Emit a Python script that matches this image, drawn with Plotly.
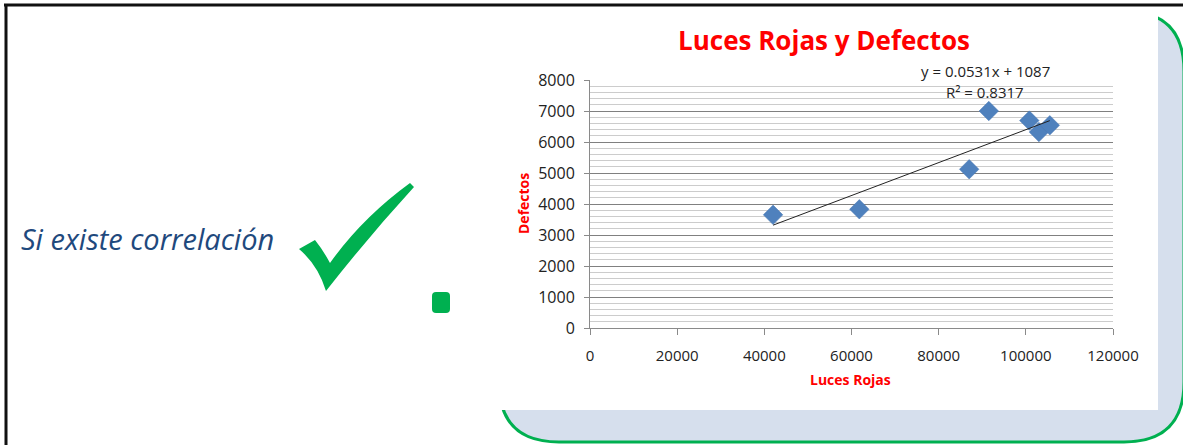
import re
import plotly.graph_objects as go

# Red lights vs. defects
luces_rojas = [42000, 61800, 87000, 91500, 100800, 103000, 105500]
defectos = [3650, 3830, 5120, 7000, 6690, 6320, 6540]

# Linear trendline stated on the chart
pendiente = 0.0531
intercepto = 1087
r_cuadrado = 0.8317

x_ticks = [0, 20000, 40000, 60000, 80000, 100000, 120000]
y_ticks = [0, 1000, 2000, 3000, 4000, 5000, 6000, 7000, 8000]

W, H = 1183, 445
FONT = "Open Sans"
ROJO = "#FF0000"
VERDE = "#00B050"
AZUL_MARCA = "#4F81BD"

x_lo, x_hi = min(luces_rojas), max(luces_rojas)
tend_x = [x_lo, x_hi]
tend_y = [pendiente * v + intercepto for v in tend_x]


def px(x):
    return x / W


def py(y):
    return 1 - y / H


def pix_path(path):
    """Convert an absolute pixel-space SVG path into paper fractions."""
    out, coords = [], []
    for tok in re.findall(r"[MLQZ]|-?\d+(?:\.\d+)?", path):
        if tok.isalpha():
            out.append(tok)
        else:
            coords.append(float(tok))
            if len(coords) == 2:
                out.append(f"{px(coords[0]):.5f},{py(coords[1]):.5f}")
                coords = []
    return " ".join(out)


fig = go.Figure()

# data points
fig.add_trace(go.Scatter(
    x=luces_rojas, y=defectos, mode="markers",
    marker=dict(symbol="diamond", size=15, color=AZUL_MARCA,
                line=dict(width=0.5, color="#4677b3")),
    showlegend=False, hoverinfo="skip"))

# trendline
fig.add_trace(go.Scatter(
    x=tend_x, y=tend_y, mode="lines",
    line=dict(color="#222222", width=1),
    showlegend=False, hoverinfo="skip"))

# page decoration: panel, frame, check mark
shapes = [
    # light-blue rounded panel with green border
    dict(type="path",
         path=pix_path("M 559 11 L 1124 11 Q 1184 11 1184 71 L 1184 382 "
                       "Q 1184 442 1124 442 L 559 442 Q 499 442 499 382 "
                       "L 499 71 Q 499 11 559 11 Z"),
         fillcolor="#D6DFED", line=dict(color=VERDE, width=3)),
    # white chart area
    dict(type="rect", x0=px(480), x1=px(1158), y0=py(410), y1=1,
         fillcolor="white", line=dict(width=0)),
    # black frame (top and left)
    dict(type="line", x0=px(4), x1=1, y0=py(5), y1=py(5),
         line=dict(color="#111111", width=3)),
    dict(type="line", x0=px(6), x1=px(6), y0=py(4), y1=0,
         line=dict(color="#111111", width=3)),
    # check mark
    dict(type="path",
         path=pix_path("M 299 249 L 315 240 Q 323 250 330 263 "
                       "Q 362 218 410 183 L 414 187 Q 370 235 326 291 "
                       "Q 318 265 299 249 Z"),
         fillcolor=VERDE, line=dict(width=0)),
    # dot
    dict(type="path",
         path=pix_path("M 436 292 L 446 292 Q 450 292 450 296 L 450 309 "
                       "Q 450 313 446 313 L 436 313 Q 432 313 432 309 "
                       "L 432 296 Q 432 292 436 292 Z"),
         fillcolor=VERDE, line=dict(width=0)),
]
for s in shapes:
    s.update(xref="paper", yref="paper", layer="below")


def note(text, x, y, size, color, bold=False, italic=False, angle=0):
    t = text
    if bold:
        t = f"<b>{t}</b>"
    if italic:
        t = f"<i>{t}</i>"
    return dict(text=t, x=px(x), y=py(y), xref="paper", yref="paper",
                showarrow=False, xanchor="center", yanchor="middle",
                textangle=angle,
                font=dict(family=FONT, size=size, color=color))


annotations = [
    note("Luces Rojas y Defectos", 824, 40, 26, ROJO, bold=True),
    note("Luces Rojas", 851, 379, 14, ROJO, bold=True),
    note("Defectos", 524, 204, 14, ROJO, bold=True, angle=-90),
    note(f"y = {pendiente}x + {intercepto}", 985, 71, 15, "#222222"),
    note(f"R² = {r_cuadrado}", 985, 92, 15, "#222222"),
    note("Si existe correlación", 147, 238, 29, "#1F497D", italic=True),
]

fig.update_layout(
    width=W, height=H,
    margin=dict(l=0, r=0, t=0, b=0),
    paper_bgcolor="white",
    plot_bgcolor="rgba(0,0,0,0)",
    shapes=shapes,
    annotations=annotations,
    xaxis=dict(
        domain=[px(590), px(1113)], range=[0, 120000],
        tickvals=x_ticks, ticktext=[str(v) for v in x_ticks],
        showgrid=False, zeroline=False,
        showline=True, linecolor="#8a8a8a", linewidth=1,
        ticks="outside", ticklen=6, tickcolor="#8a8a8a",
        ticklabelstandoff=8,
        tickfont=dict(family=FONT, size=15, color="#222222"),
        automargin=False, fixedrange=True),
    yaxis=dict(
        domain=[py(328), py(80)], range=[0, 8000],
        tickvals=y_ticks, ticktext=[str(v) for v in y_ticks],
        showgrid=True, gridcolor="#808080", gridwidth=1,
        zeroline=False,
        showline=True, linecolor="#8a8a8a", linewidth=1,
        ticks="outside", ticklen=5, tickcolor="#8a8a8a",
        ticklabelstandoff=6,
        minor=dict(dtick=200, showgrid=True, gridcolor="#cccccc",
                   gridwidth=1, ticks=""),
        tickfont=dict(family=FONT, size=16, color="#222222"),
        automargin=False, fixedrange=True),
)

fig.write_html("out.html", config=dict(displayModeBar=False))
